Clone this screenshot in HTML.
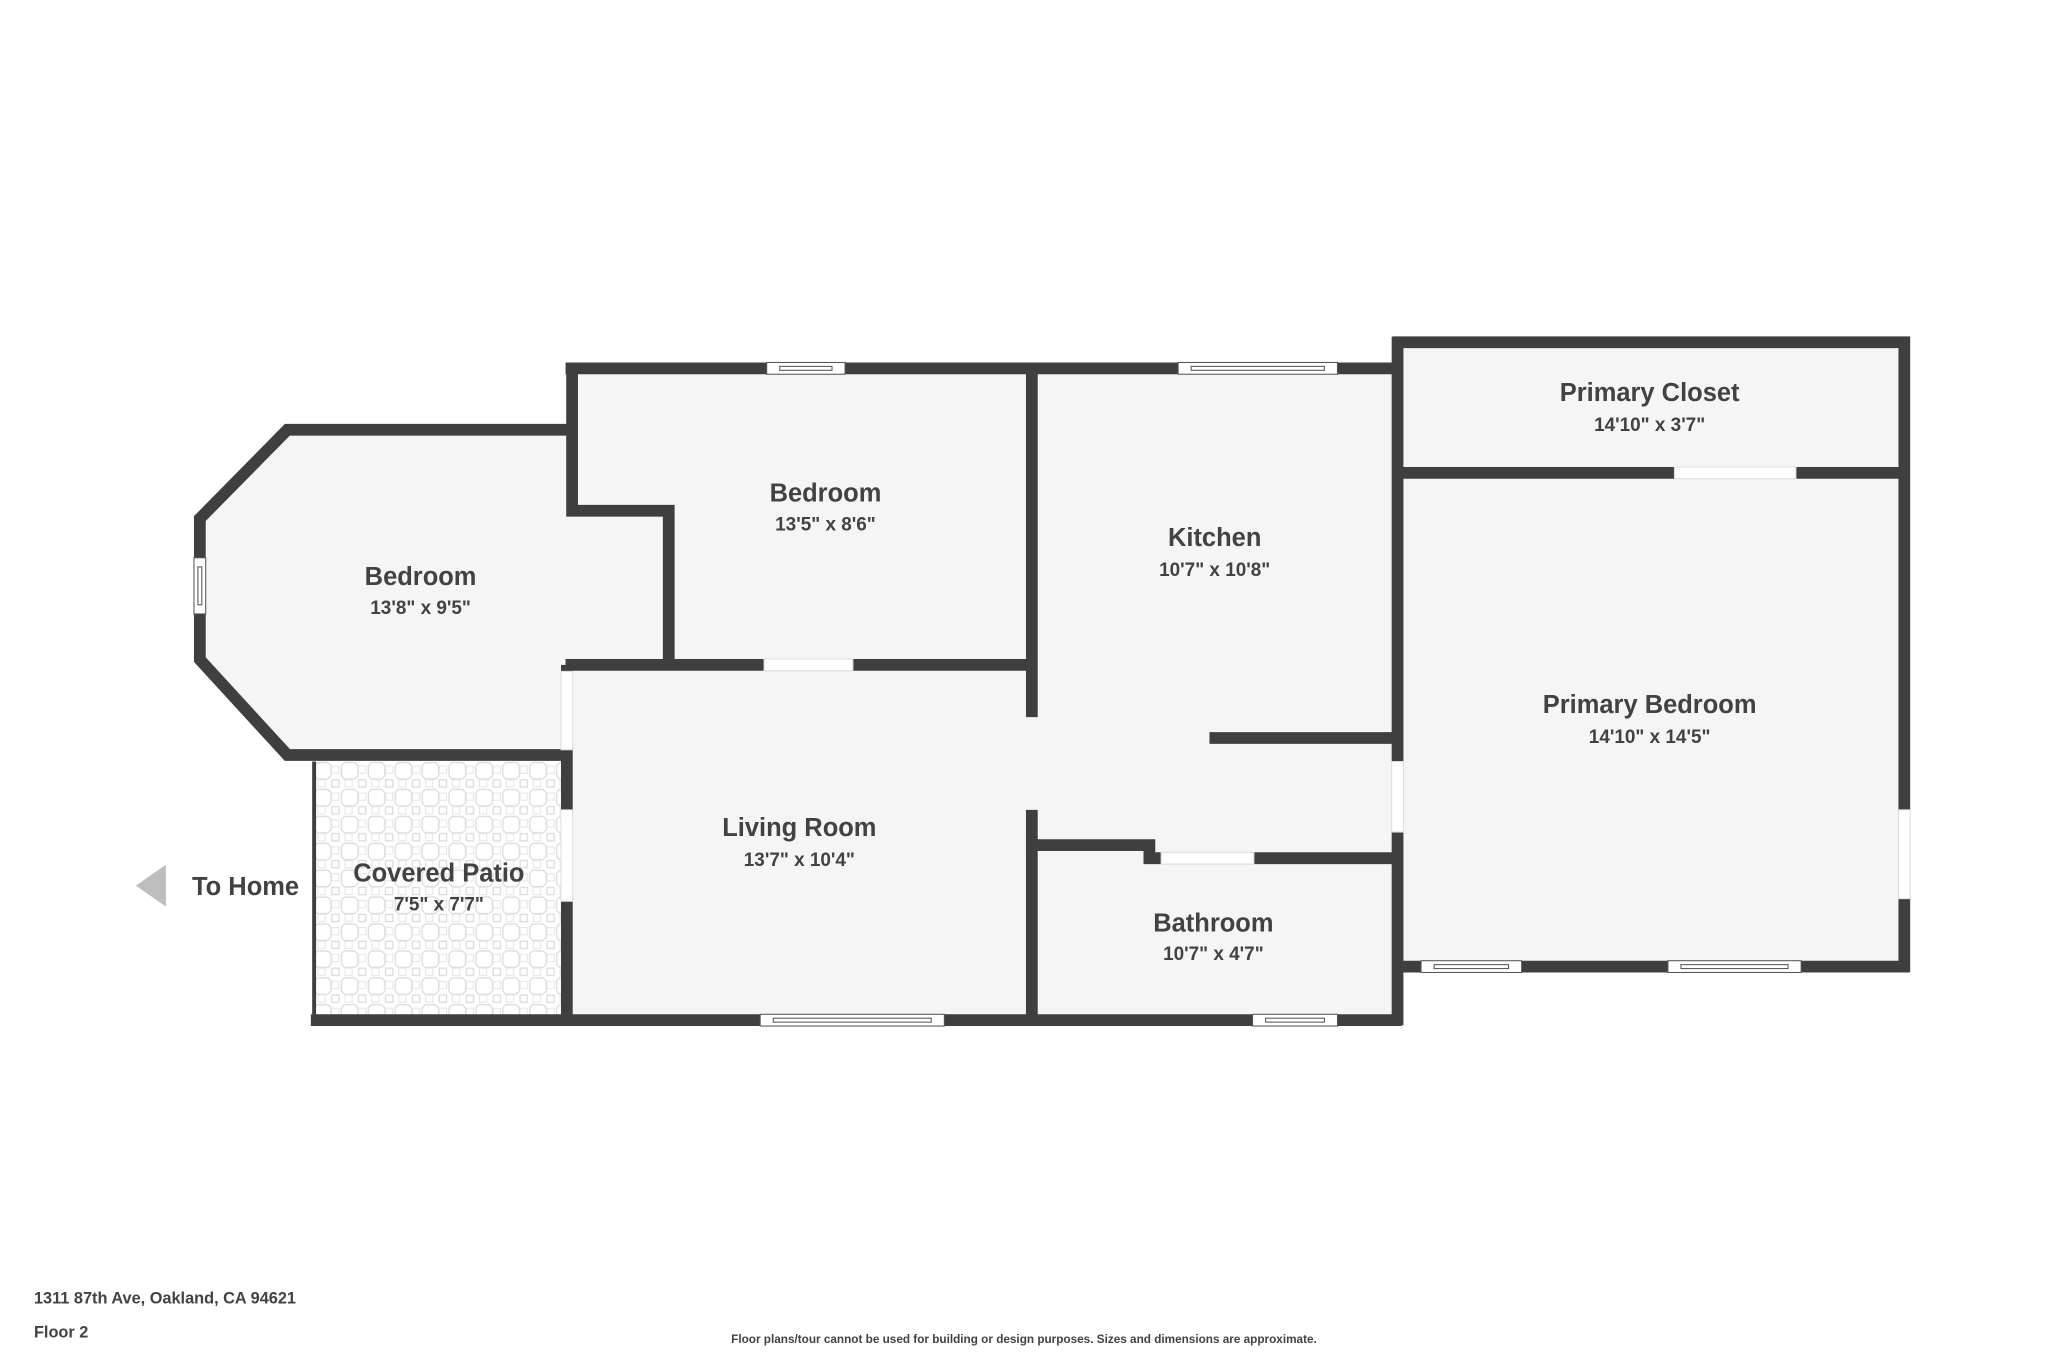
<!DOCTYPE html>
<html><head><meta charset="utf-8"><style>
html,body{margin:0;padding:0;background:#fff;}
svg{display:block;}
text{font-family:"Liberation Sans",sans-serif;fill:#424242;text-anchor:middle;}
.n{font-weight:bold;font-size:19.5px;}
.d{font-weight:bold;font-size:14.5px;}
</style></head><body>
<svg width="2048" height="1365" viewBox="0 0 1568 1045" preserveAspectRatio="none" xmlns="http://www.w3.org/2000/svg">
<defs>
<pattern id="tile" x="240" y="583" width="20.6" height="20.6" patternUnits="userSpaceOnUse">
<rect width="20.6" height="20.6" fill="#fff"/>
<path d="M3,0.8 H11 L13.4,3.2 V11 L11,13.4 H3 L0.8,11 V3.2 Z" fill="none" stroke="#dcdcdc" stroke-width="1"/>
<rect x="14" y="14" width="5.5" height="5.5" fill="none" stroke="#dcdcdc" stroke-width="1"/>
<rect x="14" y="3.5" width="5.5" height="5.5" fill="none" stroke="#e6e6e6" stroke-width="0.8"/>
<rect x="3.5" y="14" width="5.5" height="5.5" fill="none" stroke="#e6e6e6" stroke-width="0.8"/>
</pattern>
</defs>
<g fill="#f5f5f5">
<polygon points="220,329 438,329 438,391 512,391 512,509 434,509 434,578 220,578 153,505 153,397"/>
<rect x="438" y="282" width="352" height="227"/>
<rect x="434" y="509" width="356" height="272"/>
<rect x="790" y="282" width="280" height="499"/>
<rect x="1070" y="262" width="388" height="478"/>
</g>
<rect x="240" y="578" width="194" height="203" fill="url(#tile)"/>
<g stroke="#3f3f3f" stroke-width="9" fill="none" stroke-linejoin="miter">
<polyline points="433,282 1070,282"/>
<polyline points="1066,262 1458,262 1458,744"/>
<polyline points="1070,362 1458,362"/>
<polyline points="1070,258 1070,785"/>
<polyline points="1066,740 1462,740"/>
<polyline points="790,282 790,549"/>
<polyline points="790,620 790,781"/>
<polyline points="433,509 790,509"/>
<polyline points="438,282 438,391 512,391 512,509"/>
<polyline points="438,329 220,329 153,397 153,505 220,578 438,578"/>
<polyline points="434,509 434,785"/>
<polyline points="238,781 1073,781"/>
<polyline points="926,565 1070,565"/>
<polyline points="790,647 880,647 880,657 1070,657"/>
</g>
<line x1="240.5" y1="583" x2="240.5" y2="781" stroke="#3f3f3f" stroke-width="3"/>
<g fill="#fff" stroke="#ddd" stroke-width="0.8">
<rect x="1282" y="357.5" width="93" height="9"/>
<rect x="585" y="504.5" width="68" height="9"/>
<rect x="889" y="652.5" width="71" height="9"/>
<rect x="429.5" y="514" width="9" height="60"/>
<rect x="429.5" y="620" width="9" height="70"/>
<rect x="1065.5" y="583" width="9" height="54"/>
<rect x="1453.5" y="620" width="9" height="68"/>
</g>
<g fill="#fff" stroke="#555" stroke-width="0.8">
<rect x="587" y="277.5" width="60" height="9"/><rect x="597" y="280.5" width="40" height="3"/>
<rect x="902" y="277.5" width="122" height="9"/><rect x="912" y="280.5" width="102" height="3"/>
<rect x="582" y="776.5" width="141" height="9"/><rect x="592" y="779.5" width="121" height="3"/>
<rect x="959" y="776.5" width="65" height="9"/><rect x="969" y="779.5" width="45" height="3"/>
<rect x="1088" y="735.5" width="77" height="9"/><rect x="1098" y="738.5" width="57" height="3"/>
<rect x="1277" y="735.5" width="102" height="9"/><rect x="1287" y="738.5" width="82" height="3"/>
<rect x="148.5" y="427" width="9" height="43"/><rect x="151.5" y="434" width="3" height="29"/>
</g>
<text class="n" x="322" y="448">Bedroom</text><text class="d" x="322" y="470">13'8" x 9'5"</text>
<text class="n" x="632" y="384">Bedroom</text><text class="d" x="632" y="406">13'5" x 8'6"</text>
<text class="n" x="930" y="418">Kitchen</text><text class="d" x="930" y="441">10'7" x 10'8"</text>
<text class="n" x="1263" y="307">Primary Closet</text><text class="d" x="1263" y="330">14'10" x 3'7"</text>
<text class="n" x="1263" y="546">Primary Bedroom</text><text class="d" x="1263" y="569">14'10" x 14'5"</text>
<text class="n" x="612" y="640">Living Room</text><text class="d" x="612" y="663">13'7" x 10'4"</text>
<text class="n" x="336" y="675">Covered Patio</text><text class="d" x="336" y="697">7'5" x 7'7"</text>
<text class="n" x="929" y="713">Bathroom</text><text class="d" x="929" y="735">10'7" x 4'7"</text>
<polygon points="104,678 127,662 127,694" fill="#bdbdbd"/>
<text class="n" x="188" y="685">To Home</text>
<text x="26" y="998" style="text-anchor:start;font-weight:bold;font-size:12.5px">1311 87th Ave, Oakland, CA 94621</text>
<text x="26" y="1024" style="text-anchor:start;font-weight:bold;font-size:12.5px">Floor 2</text>
<text x="784" y="1028" style="font-weight:bold;font-size:9px">Floor plans/tour cannot be used for building or design purposes. Sizes and dimensions are approximate.</text>
</svg>
</body></html>
